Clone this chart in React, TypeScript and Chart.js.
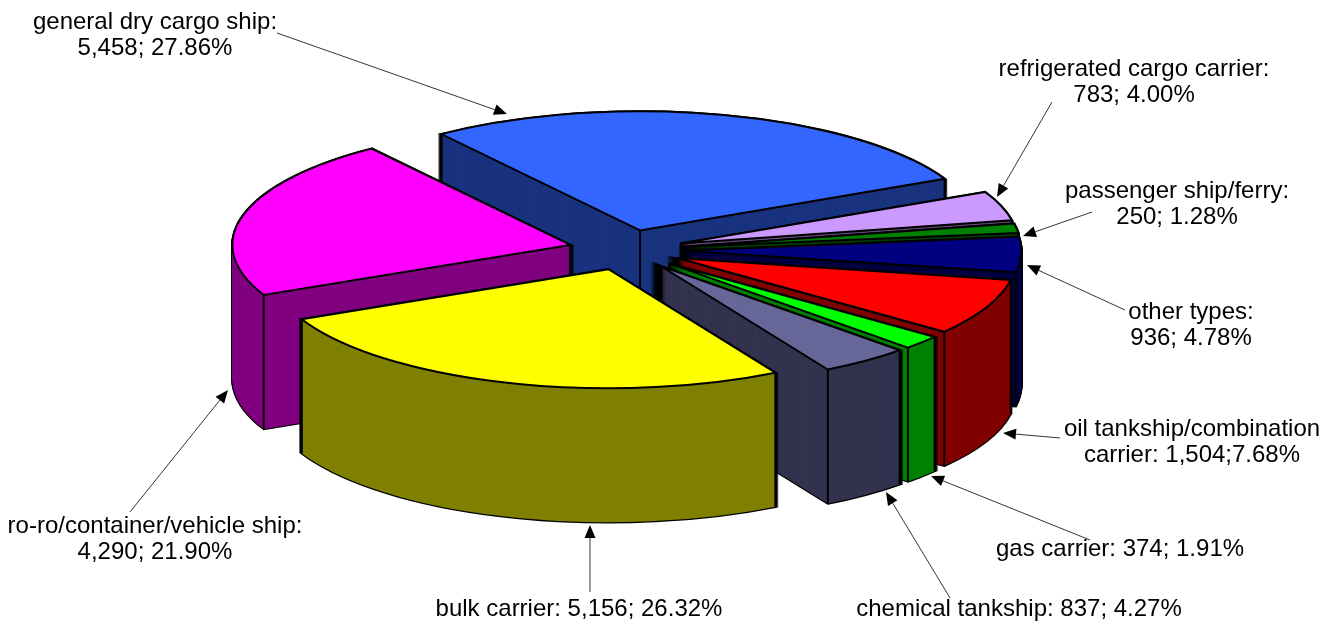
import React, { useEffect, useRef } from "react";
import { Chart, registerables } from "chart.js";

Chart.register(...registerables);

const categories = [
  "general dry cargo ship",
  "refrigerated cargo carrier",
  "passenger ship/ferry",
  "other types",
  "oil tankship/combination carrier",
  "gas carrier",
  "chemical tankship",
  "bulk carrier",
  "ro-ro/container/vehicle ship",
];
const shipCounts = [5458, 783, 250, 936, 1504, 374, 837, 5156, 4290];
const topColors = ["#3366FF", "#CC99FF", "#008000", "#000080", "#FF0000", "#00FF00", "#666699", "#FFFF00", "#FF00FF"];
const wallColors = ["#19337F", "#664C7F", "#004000", "#000040", "#800000", "#008000", "#333350", "#808000", "#800080"];
const drawOrder = [0, 1, 2, 3, 4, 5, 6, 8, 7];

const labelLines = [
  { lines: ["general dry cargo ship:", "5,458; 27.86%"], x: 155, y: 29 },
  { lines: ["refrigerated cargo carrier:", "783; 4.00%"], x: 1134, y: 76 },
  { lines: ["passenger ship/ferry:", "250; 1.28%"], x: 1177, y: 198 },
  { lines: ["other types:", "936; 4.78%"], x: 1191, y: 319 },
  { lines: ["oil tankship/combination", "carrier: 1,504;7.68%"], x: 1192, y: 436 },
  { lines: ["gas carrier: 374; 1.91%"], x: 1120, y: 556 },
  { lines: ["chemical tankship: 837; 4.27%"], x: 1019, y: 616 },
  { lines: ["bulk carrier: 5,156; 26.32%"], x: 579, y: 616 },
  { lines: ["ro-ro/container/vehicle ship:", "4,290; 21.90%"], x: 155, y: 533 },
];
const leaders = [
  [277, 33, 507, 114],
  [1052, 102, 997, 197],
  [1092, 212, 1023, 236],
  [1125, 310, 1027, 265],
  [1060, 438, 1003, 433],
  [1090, 540, 931, 476],
  [950, 598, 886, 492],
  [590, 592, 590, 525],
  [130, 512, 228, 390],
];

const VIEW = { cx: 626, cy: 250, rx: 338, ry: 119, depth: 134, explode: 0.17 };

const applyView = (ctx: any, el: any) => {
  const R = el.outerRadius;
  const mid = (el.startAngle + el.endAngle) / 2;
  ctx.translate(VIEW.cx, VIEW.cy);
  ctx.scale(VIEW.rx / R, VIEW.ry / R);
  ctx.translate(-el.x, -el.y);
  ctx.translate(Math.cos(mid) * VIEW.explode * R, Math.sin(mid) * VIEW.explode * R);
};

const tracePath = (ctx: any, el: any, dy: number) => {
  const base = ctx.getTransform();
  ctx.beginPath();
  ctx.translate(0, dy);
  applyView(ctx, el);
  ctx.moveTo(el.x, el.y);
  ctx.arc(el.x, el.y, el.outerRadius, el.startAngle, el.endAngle);
  ctx.closePath();
  ctx.setTransform(base);
};

const project = (el: any, px: number, py: number) => {
  const mid = (el.startAngle + el.endAngle) / 2;
  return [
    VIEW.cx + (px + Math.cos(mid) * VIEW.explode) * VIEW.rx,
    VIEW.cy + (py + Math.sin(mid) * VIEW.explode) * VIEW.ry,
  ];
};

const edgeVisible = (el: any, px: number, py: number) => {
  const qy = py + 0.004;
  if (Math.hypot(px, qy) > 1) return true;
  const sweep = el.endAngle - el.startAngle;
  let a = Math.atan2(qy, px) - el.startAngle;
  a = ((a % (Math.PI * 2)) + Math.PI * 2) % (Math.PI * 2);
  return a > sweep;
};

const pie3d = {
  id: "pie3d",
  beforeDatasetsDraw(chart: any) {
    const ctx = chart.ctx;
    const meta = chart.getDatasetMeta(0);
    drawOrder.forEach((i) => {
      const el = meta.data[i];
      ctx.save();
      ctx.lineJoin = "miter";
      ctx.strokeStyle = "#000";
      ctx.lineWidth = 2.4;
      for (let d = VIEW.depth; d >= 0; d -= 1) {
        tracePath(ctx, el, d);
        ctx.stroke();
      }
      ctx.fillStyle = wallColors[i];
      for (let d = VIEW.depth; d >= 0; d -= 1) {
        tracePath(ctx, el, d);
        ctx.fill();
      }
      ctx.lineWidth = 2;
      const corners = [
        [0, 0],
        [Math.cos(el.startAngle), Math.sin(el.startAngle)],
        [Math.cos(el.endAngle), Math.sin(el.endAngle)],
      ];
      corners.forEach(([px, py]) => {
        if (!edgeVisible(el, px, py)) return;
        const [x, y] = project(el, px, py);
        ctx.beginPath();
        ctx.moveTo(x, y);
        ctx.lineTo(x, y + VIEW.depth);
        ctx.stroke();
      });
      ctx.save();
      applyView(ctx, el);
      el.draw(ctx);
      ctx.restore();
      tracePath(ctx, el, 0);
      ctx.stroke();
      ctx.restore();
    });
    return false;
  },
  afterDraw(chart: any) {
    const ctx = chart.ctx;
    ctx.save();
    ctx.fillStyle = "#000";
    ctx.strokeStyle = "#000";
    ctx.lineWidth = 0.8;
    leaders.forEach(([x1, y1, x2, y2]) => {
      const a = Math.atan2(y2 - y1, x2 - x1);
      const len = 13;
      const half = 5.5;
      const bx = x2 - Math.cos(a) * len;
      const by = y2 - Math.sin(a) * len;
      ctx.beginPath();
      ctx.moveTo(x1, y1);
      ctx.lineTo(bx, by);
      ctx.stroke();
      ctx.beginPath();
      ctx.moveTo(x2, y2);
      ctx.lineTo(bx - Math.sin(a) * half, by + Math.cos(a) * half);
      ctx.lineTo(bx + Math.sin(a) * half, by - Math.cos(a) * half);
      ctx.closePath();
      ctx.fill();
    });
    ctx.font = '24px "Liberation Sans", Arial, sans-serif';
    ctx.textAlign = "center";
    ctx.textBaseline = "alphabetic";
    labelLines.forEach(({ lines, x, y }) => {
      lines.forEach((t, k) => ctx.fillText(t, x, y + k * 26));
    });
    ctx.restore();
  },
};

export default function App() {
  const ref = useRef<HTMLCanvasElement>(null);
  useEffect(() => {
    const chart = new Chart(ref.current as HTMLCanvasElement, {
      type: "pie",
      data: {
        labels: categories,
        datasets: [{ data: shipCounts, backgroundColor: topColors, borderWidth: 0 }],
      },
      options: {
        responsive: false,
        animation: false,
        rotation: -36,
        radius: 300,
        plugins: { legend: { display: false }, tooltip: { enabled: false } },
      },
      plugins: [pie3d],
    } as any);
    return () => chart.destroy();
  }, []);
  return (
    <div style={{ position: "absolute", left: 0, top: 0, width: 1335, height: 622 }}>
      <canvas ref={ref} width={1335} height={622} style={{ display: "block" }} />
    </div>
  );
}
